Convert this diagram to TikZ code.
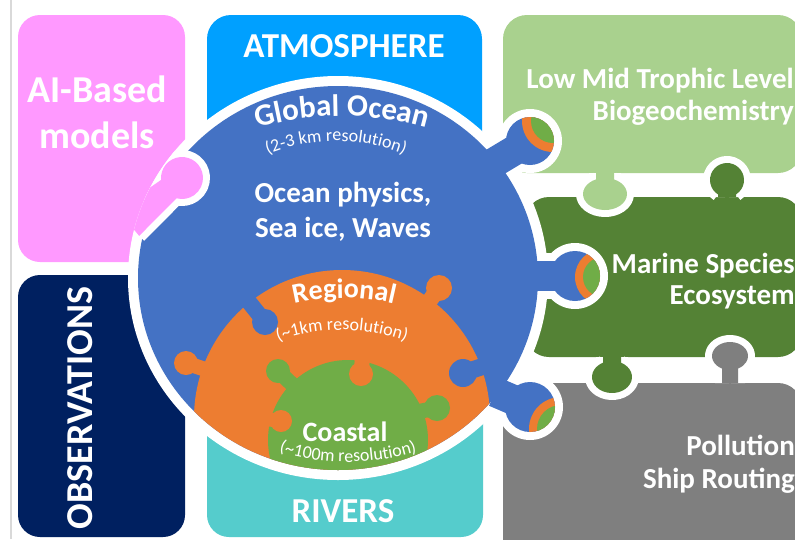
\documentclass[tikz,border=0pt]{standalone}
\usepackage{fontspec}
\setmainfont{Carlito}
\usetikzlibrary{calc,decorations.text}
\definecolor{pinkc}{HTML}{FF99FF}
\definecolor{atmc}{HTML}{00A0FF}
\definecolor{lgreen}{HTML}{A9D18E}
\definecolor{dgreen}{HTML}{548235}
\definecolor{grayc}{HTML}{7F7F7F}
\definecolor{navyc}{HTML}{002060}
\definecolor{turq}{HTML}{55CCCC}
\definecolor{oblue}{HTML}{4472C4}
\definecolor{orangec}{HTML}{ED7D31}
\definecolor{greenc}{HTML}{70AD47}

% puzzle knob with white outline:
% #1 color, #2 x, #3 y, #4 x radius, #5 y radius, #6 angle to base, #7 neck half width, #8 base distance, #9 radius across the neck
\newcommand{\kflare}{1}
\newcommand{\pknob}[9]{%
  \pgfmathsetmacro{\kphi}{asin(#7/#9)}%
  \pgfmathsetmacro{\kA}{#6+\kphi}%
  \pgfmathsetmacro{\kB}{#6+360-\kphi}%
  \pgfmathsetmacro{\kC}{#6+90}%
  \pgfmathsetmacro{\kD}{#6-90}%
  \pgfmathsetmacro{\kAx}{#4*cos(\kA)}%
  \pgfmathsetmacro{\kAy}{#5*sin(\kA)}%
  \pgfmathsetmacro{\kE}{#7*\kflare}%
  \draw[white, line width=14pt, line join=round]
    ($(#2,#3)+(#6:#8)+(\kC:\kE)$) -- ($(#2,#3)+(\kAx,\kAy)$)
    arc[start angle=\kA, end angle=\kB, x radius=#4, y radius=#5]
    -- ($(#2,#3)+(#6:#8)+(\kD:\kE)$);
  \fill[#1]
    ($(#2,#3)+(#6:#8)+(\kC:\kE)$) -- ($(#2,#3)+(\kAx,\kAy)$)
    arc[start angle=\kA, end angle=\kB, x radius=#4, y radius=#5]
    -- ($(#2,#3)+(#6:#8)+(\kD:\kE)$) -- cycle;
}

\begin{document}
\begin{tikzpicture}[x=1pt,y=-1pt,
  lbl/.style={text=white, inner sep=0pt, font=\bfseries\fontsize{29}{32}\selectfont},
  big/.style={text=white, inner sep=0pt, font=\bfseries\fontsize{38}{40}\selectfont},
  mid/.style={text=white, inner sep=0pt, font=\bfseries\fontsize{35}{38}\selectfont}]
\useasboundingbox (0,0) rectangle (795,539);
\fill[white] (0,0) rectangle (795,539);
\draw[black!15, line width=1.5pt] (11,0) -- (11,539);

% boxes
\fill[pinkc, rounded corners=22pt] (18,15) rectangle (185,262);
\fill[atmc, rounded corners=24pt] (207,15) rectangle (482,200);
\fill[lgreen, rounded corners=24pt] (503,15) rectangle (802,173);
\fill[dgreen, rounded corners=24pt] (525,197) rectangle (802,357);
\fill[grayc, rounded corners=24pt] (503,383) rectangle (802,580);
\fill[navyc, rounded corners=22pt] (18,275) rectangle (185,537);
\fill[turq, rounded corners=22pt] (207,300) rectangle (483,537);

% knobs between right boxes
\pknob{lgreen}{605}{194}{22}{16}{270}{9}{21}{22}
\pknob{dgreen}{727}{180}{17}{17}{90}{9}{17}{17}
\pknob{dgreen}{612}{377}{20}{16}{270}{9}{20}{20}
\pknob{grayc}{730}{356}{18}{14}{90}{8}{27}{18}

% white outline of the big ocean piece
\fill[white] (338,278) ellipse [x radius=210, y radius=202];
\fill[white] (530,141) circle[radius=32];
\draw[white, line width=46pt] (530,141) -- (490,165);
\fill[white] (575,276) circle[radius=33];
\draw[white, line width=46pt] (575,276) -- (530,276);
\fill[white] (530,407) circle[radius=33];
\draw[white, line width=46pt] (530,407) -- (495,392);

% blue piece
\fill[oblue] (338,278) ellipse [x radius=200, y radius=192];
\fill[oblue] (530,141) circle[radius=24];
\draw[oblue, line width=30pt] (530,141) -- (490,165);
\fill[oblue] (575,276) circle[radius=25];
\draw[oblue, line width=30pt] (575,276) -- (530,276);
\fill[oblue] (530,407) circle[radius=25];
\draw[oblue, line width=30pt] (530,407) -- (495,392);

% mini icons in the blue knobs
\begin{scope}
  \clip (530,141) circle[radius=24];
  \fill[orangec] (553,121) circle[radius=31];
  \fill[greenc] (553,121) circle[radius=22];
\end{scope}
\begin{scope}
  \clip (575,276) circle[radius=25];
  \fill[orangec] (603,277) circle[radius=28];
  \fill[greenc] (603,277) circle[radius=20];
\end{scope}
\begin{scope}
  \clip (530,407) circle[radius=25];
  \fill[orangec] (561,429) circle[radius=32];
  \fill[greenc] (561,429) circle[radius=24];
\end{scope}

% nested regional and coastal pieces
\begin{scope}
  \clip (338,278) ellipse [x radius=200, y radius=192];
  \fill[orangec] (342,418) circle[radius=148];
  \fill[orangec] (186,363) circle[radius=12];
  \draw[orangec, line width=15pt] (186,363) -- (210,371);
  \fill[orangec] (439,288) circle[radius=13];
  \draw[orangec, line width=16pt] (439,288) -- (425,307);
  \fill[oblue] (265,322) circle[radius=13];
  \draw[oblue, line width=16pt] (265,322) -- (245,297);
  \fill[oblue] (463,373) circle[radius=14];
  \draw[oblue, line width=17pt] (463,373) -- (490,364);
  \fill[greenc] (348,440) circle[radius=80];
  \fill[greenc] (278,371) circle[radius=12];
  \draw[greenc, line width=15pt] (278,371) -- (296,388);
  \fill[greenc] (437,408) circle[radius=13];
  \draw[greenc, line width=15pt] (437,408) -- (416,412);
  \fill[orangec] (361,374) circle[radius=12];
  \draw[orangec, line width=15pt] (361,374) -- (363,352);
  \fill[orangec] (281,421) circle[radius=11];
  \draw[orangec, line width=14pt] (281,421) -- (258,418);
\end{scope}

% pink knob into the ocean piece (only its part over the ocean piece is drawn)
\begin{scope}
  \clip (338,278) ellipse [x radius=210, y radius=202];
  \renewcommand{\kflare}{1.4}
  \pknob{pinkc}{182}{178}{21}{21}{140}{12}{70}{21}
\end{scope}

% texts
\node[big, anchor=base] (ai) at (97,102) {AI-Based};
\node[big, anchor=base] (models) at (97,148) {models};
\node[mid, anchor=base] (atm) at (344,57) {ATMOSPHERE};
\node[lbl, anchor=base east] (low) at (794,88) {Low Mid Trophic Level};
\node[lbl, anchor=base east] (bio) at (794,120) {Biogeochemistry};
\node[lbl, anchor=base east] (mar) at (795,273) {Marine Species};
\node[lbl, anchor=base east] (eco) at (795,304) {Ecosystem};
\node[lbl, anchor=base east] (pol) at (795,455) {Pollution};
\node[lbl, anchor=base east] (ship) at (795,488) {Ship Routing};
\node[lbl, anchor=base] (op) at (343,202) {Ocean physics,};
\node[lbl, anchor=base] (sea) at (343,237) {Sea ice, Waves};
\node[mid, anchor=base] (riv) at (343,522) {RIVERS};
\node[big, rotate=90, anchor=base] (obs) at (92,408) {OBSERVATIONS};
\node[lbl, font=\bfseries\fontsize{28}{30}\selectfont, anchor=base] (coastal) at (345,441) {Coastal};

\path[decorate, decoration={text along path, text align=center, text color=white,
  text={|\bfseries\fontsize{31}{33}\selectfont|Global Ocean}}]
  ($(342,423)+(245:307)$) arc[start angle=245, end angle=295, radius=307];
\path[decorate, decoration={text along path, text align=center, text color=white,
  text={|\fontsize{18}{20}\selectfont|(2-3 km resolution)}}]
  ($(336,323)+(240:182)$) arc[start angle=240, end angle=300, radius=182];
\path[decorate, decoration={text along path, text align=center, text color=white,
  text={|\bfseries\fontsize{28}{30}\selectfont|Regional}}]
  ($(344,509)+(240:211)$) arc[start angle=240, end angle=300, radius=211];
\path[decorate, decoration={text along path, text align=center, text color=white,
  text={|\fontsize{18}{20}\selectfont|({\textasciitilde}1km resolution)}}]
  ($(342,520)+(235:190)$) arc[start angle=235, end angle=305, radius=190];
\path[decorate, decoration={text along path, text align=center, text color=white,
  text={|\fontsize{18}{20}\selectfont|({\textasciitilde}100m resolution)}}]
  ($(348,226)+(125:236)$) arc[start angle=125, end angle=55, radius=236];
\end{tikzpicture}
\end{document}
